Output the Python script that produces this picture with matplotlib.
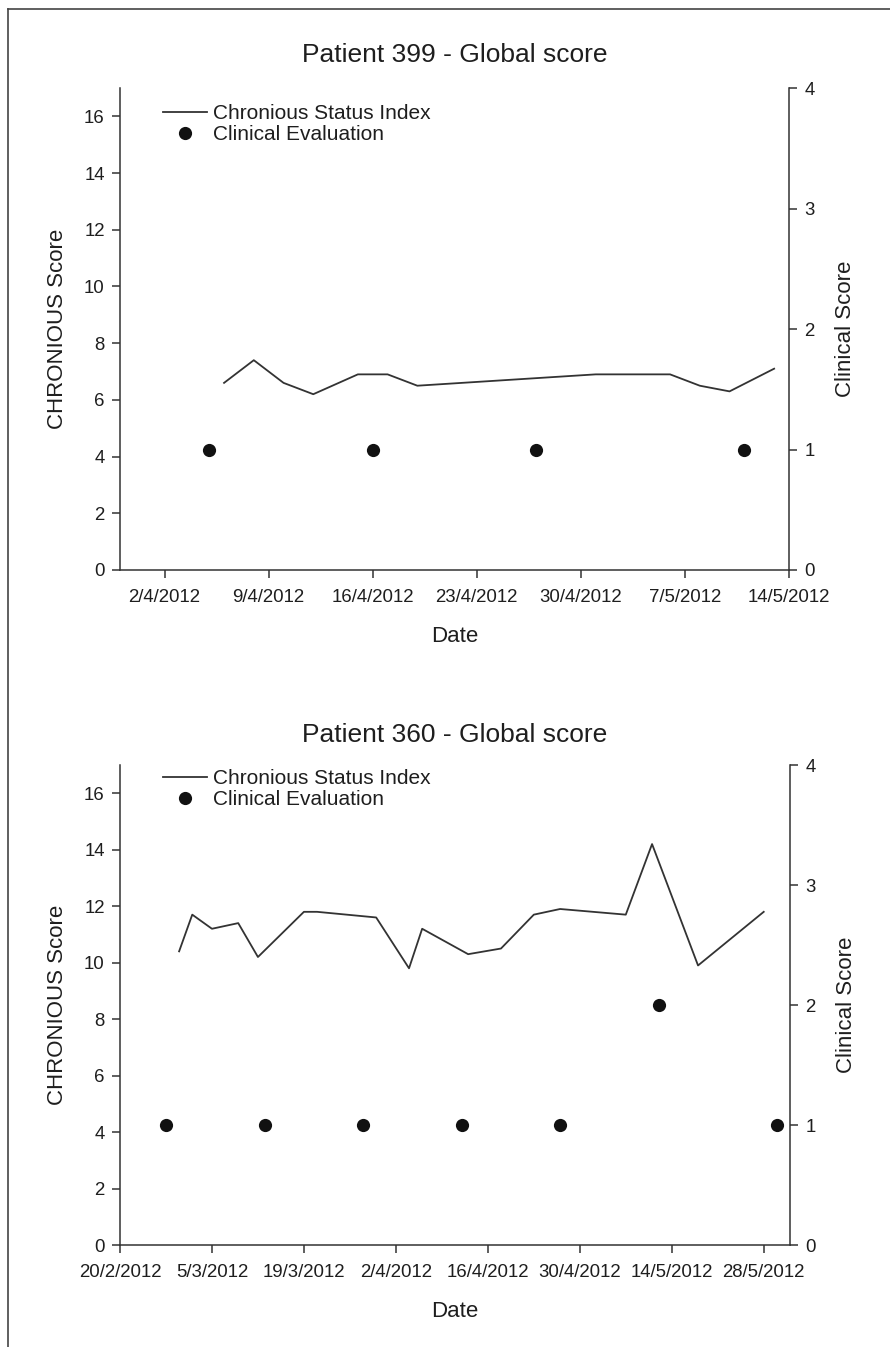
import matplotlib
matplotlib.use("Agg")
import matplotlib.pyplot as plt
import matplotlib.dates as mdates
from matplotlib.lines import Line2D
from matplotlib.ticker import FuncFormatter
from datetime import datetime

plt.rcParams['font.family'] = ['Liberation Sans', 'DejaVu Sans']

# ---------------- data ----------------
p399_title = "Patient 399 - Global score"
p399_line_dates = ["6/4/2012", "8/4/2012", "10/4/2012", "12/4/2012", "15/4/2012", "17/4/2012",
                   "19/4/2012", "1/5/2012", "6/5/2012", "8/5/2012", "10/5/2012", "13/5/2012"]
p399_line_values = [6.6, 7.4, 6.6, 6.2, 6.9, 6.9, 6.5, 6.9, 6.9, 6.5, 6.3, 7.1]
p399_clin_dates = ["5/4/2012", "16/4/2012", "27/4/2012", "11/5/2012"]
p399_clin_values = [1, 1, 1, 1]
p399_xticks = ["2/4/2012", "9/4/2012", "16/4/2012", "23/4/2012", "30/4/2012", "7/5/2012", "14/5/2012"]
p399_xlim = ["30/3/2012", "14/5/2012"]

p360_title = "Patient 360 - Global score"
p360_line_dates = ["29/2/2012", "2/3/2012", "5/3/2012", "9/3/2012", "12/3/2012", "19/3/2012",
                   "21/3/2012", "30/3/2012", "4/4/2012", "6/4/2012", "13/4/2012", "18/4/2012",
                   "23/4/2012", "27/4/2012", "7/5/2012", "11/5/2012", "18/5/2012", "28/5/2012"]
p360_line_values = [10.4, 11.7, 11.2, 11.4, 10.2, 11.8, 11.8, 11.6, 9.8, 11.2, 10.3, 10.5,
                    11.7, 11.9, 11.7, 14.2, 9.9, 11.8]
p360_clin_dates = ["27/2/2012", "13/3/2012", "28/3/2012", "12/4/2012", "27/4/2012", "12/5/2012", "30/5/2012"]
p360_clin_values = [1, 1, 1, 1, 1, 2, 1]
p360_xticks = ["20/2/2012", "5/3/2012", "19/3/2012", "2/4/2012", "16/4/2012", "30/4/2012",
               "14/5/2012", "28/5/2012"]
p360_xlim = ["20/2/2012", "1/6/2012"]

left_yticks = [0, 2, 4, 6, 8, 10, 12, 14, 16]
right_yticks = [0, 1, 2, 3, 4]
left_ylim = (0, 17)
right_ylim = (0, 4)

series_line_label = "Chronious Status Index"
series_dot_label = "Clinical Evaluation"
left_label = "CHRONIOUS Score"
right_label = "Clinical Score"
x_label = "Date"


def d(s):
    return datetime.strptime(s, "%d/%m/%Y")


def fmt(x, pos=None):
    dt = mdates.num2date(x)
    return f"{dt.day}/{dt.month}/{dt.year}"


W, H = 890, 1347
fig = plt.figure(figsize=(W / 100, H / 100), dpi=100)
fig.patch.set_facecolor("white")

TXT = "#1e1e1e"
LINEC = "#333333"
SPW = 1.1


def panel(rect, title, title_pad, ld, lv, cd, cv, xt, xl, leg_y):
    ax = fig.add_axes(rect)
    ax2 = ax.twinx()
    ax.plot([d(s) for s in ld], lv, color=LINEC, lw=1.3, label=series_line_label)
    ax2.plot([d(s) for s in cd], cv, 'o', color="#111111", ms=9.5, mew=0, label=series_dot_label)

    ax.set_xlim(d(xl[0]), d(xl[1]))
    ax.set_ylim(*left_ylim)
    ax2.set_ylim(*right_ylim)
    ax.set_xticks([d(s) for s in xt])
    ax.xaxis.set_major_formatter(FuncFormatter(fmt))
    ax.set_yticks(left_yticks)
    ax2.set_yticks(right_yticks)

    for a in (ax, ax2):
        a.spines['top'].set_visible(False)
        for s in a.spines.values():
            s.set_linewidth(SPW)
            s.set_color("#333333")
        a.tick_params(direction='out', length=6, width=SPW, color="#333333",
                      labelsize=13.4, labelcolor=TXT, pad=5)
    ax.tick_params(axis='x', pad=8)
    ax.spines['right'].set_visible(False)
    ax2.spines['left'].set_visible(False)
    ax2.spines['bottom'].set_visible(False)

    ax.set_title(title, fontsize=19, color=TXT, pad=title_pad)
    ax.set_xlabel(x_label, fontsize=16, color=TXT, labelpad=14)
    ax.set_ylabel(left_label, fontsize=16, color=TXT)
    ax.yaxis.set_label_coords(-0.078, 0.5)
    ax2.set_ylabel(right_label, fontsize=16, color=TXT)
    ax2.yaxis.set_label_coords(1.069, 0.5)

    h1, l1 = ax.get_legend_handles_labels()
    h2, l2 = ax2.get_legend_handles_labels()
    leg = ax2.legend(h1 + h2, l1 + l2, loc='upper left', bbox_to_anchor=(0.064, leg_y),
                     frameon=False, fontsize=15, handlelength=2.1, handletextpad=0.3,
                     labelspacing=0.1, borderpad=0, borderaxespad=0)
    for t in leg.get_texts():
        t.set_color(TXT)
    return ax, ax2


left = 120 / W
width = 669 / W
panel([left, 1 - 570 / H, width, 482 / H], p399_title, 18.7,
      p399_line_dates, p399_line_values, p399_clin_dates, p399_clin_values,
      p399_xticks, p399_xlim, 0.966)
panel([left, 1 - 1245 / H, 670 / W, 480 / H], p360_title, 16.6,
      p360_line_dates, p360_line_values, p360_clin_dates, p360_clin_values,
      p360_xticks, p360_xlim, 0.992)

# page border (left and top)
bx = 8 / W
by = 1 - 9 / H
fig.add_artist(Line2D([bx, bx], [0, by], transform=fig.transFigure, color="#444444", lw=1.2))
fig.add_artist(Line2D([bx, 1], [by, by], transform=fig.transFigure, color="#444444", lw=1.2))

fig.savefig("out.png", dpi=100, facecolor="white")
